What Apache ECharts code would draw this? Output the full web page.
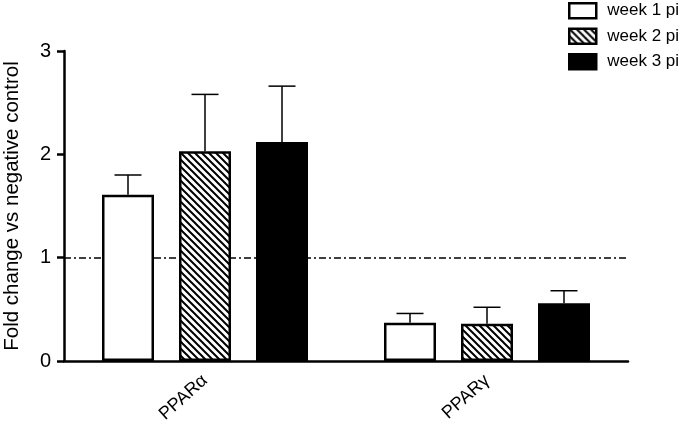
<!DOCTYPE html>
<html>
<head>
<meta charset="utf-8">
<script src="https://cdn.jsdelivr.net/npm/echarts@6/dist/echarts.min.js"></script>
<style>html,body{margin:0;padding:0;background:#fff}#main{width:680px;height:431px}</style>
</head>
<body>
<div id="main"></div>
<script>
// ---- data ----
const categories = ['PPARα', 'PPARγ'];
const seriesNames = ['week 1 pi', 'week 2 pi', 'week 3 pi'];
const week1Mean = [1.61, 0.37];
const week1Err = [0.19, 0.09];
const week2Mean = [2.03, 0.36];
const week2Err = [0.55, 0.16];
const week3Mean = [2.12, 0.56];
const week3Err = [0.54, 0.12];
const yTicks = [0, 1, 2, 3];
const refValue = 1;
const yAxisTitle = 'Fold change vs negative control';

// ---- styles ----
const FONT = 'Liberation Sans, Arial, Helvetica, sans-serif';
const BAR_W = 52;
const BAR_GAP_PX = 25;
const CAP_W = 27;

function hatch() {
  const s = 7;
  const c = document.createElement('canvas');
  c.width = s; c.height = s;
  const g = c.getContext('2d');
  g.fillStyle = '#fff';
  g.fillRect(0, 0, s, s);
  g.strokeStyle = '#000';
  g.lineWidth = 2;
  g.beginPath();
  g.moveTo(-1, -1); g.lineTo(s + 1, s + 1);
  g.moveTo(-1, s - 1); g.lineTo(1, s + 1);
  g.moveTo(s - 1, -1); g.lineTo(s + 1, 1);
  g.stroke();
  return c;
}

const fills = ['#ffffff', { image: hatch(), repeat: 'repeat' }, '#000000'];
const means = [week1Mean, week2Mean, week3Mean];
const errs = [week1Err, week2Err, week3Err];

const chart = echarts.init(document.getElementById('main'), null, { renderer: 'canvas' });

const series = [];
seriesNames.forEach((name, i) => {
  const s = {
    name: name,
    type: 'bar',
    barWidth: BAR_W,
    barGap: (BAR_GAP_PX / BAR_W * 100) + '%',
    data: means[i],
    itemStyle: { color: fills[i], borderColor: '#000', borderWidth: 2.5 },
    z: 2
  };
  if (i === 0) {
    s.markLine = {
      silent: true,
      symbol: ['none', 'none'],
      label: { show: false },
      lineStyle: { color: '#000', width: 1.5, type: [7, 3, 2, 3] },
      data: [{ yAxis: refValue }],
      z: 1
    };
  }
  series.push(s);
});

seriesNames.forEach((name, i) => {
  const offset = (i - 1) * (BAR_W + BAR_GAP_PX);
  series.push({
    name: 'err' + i,
    type: 'custom',
    z: 3,
    data: means[i].map((m, k) => [k, m, m + errs[i][k]]),
    renderItem: function (params, api) {
      const base = api.coord([api.value(0), api.value(1)]);
      const top = api.coord([api.value(0), api.value(2)]);
      const x = base[0] + offset;
      return {
        type: 'group',
        children: [
          { type: 'line', shape: { x1: x, y1: base[1], x2: x, y2: top[1] }, style: { stroke: '#000', lineWidth: 1.5 } },
          { type: 'line', shape: { x1: x - CAP_W / 2, y1: top[1], x2: x + CAP_W / 2, y2: top[1] }, style: { stroke: '#000', lineWidth: 1.5 } }
        ]
      };
    }
  });
});

chart.setOption({
  animation: false,
  backgroundColor: '#fff',
  textStyle: { fontFamily: FONT, color: '#000' },
  legend: {
    data: seriesNames,
    orient: 'vertical',
    icon: 'rect',
    left: 568,
    top: 2,
    padding: 0,
    itemWidth: 27,
    itemHeight: 15,
    itemGap: 8,
    selectedMode: false,
    itemStyle: { borderColor: '#000', borderWidth: 2.5 },
    textStyle: { fontFamily: FONT, fontSize: 17, color: '#000', lineHeight: 15, padding: [0, 0, 0, 6] }
  },
  grid: { left: 64, right: 52, top: 51, bottom: 70, containLabel: false, outerBoundsMode: 'none' },
  xAxis: {
    type: 'category',
    data: categories,
    axisLine: { lineStyle: { color: '#000', width: 2.5 } },
    axisTick: { alignWithLabel: true, length: 6, lineStyle: { color: '#000', width: 2.5 } },
    axisLabel: { rotate: 42, margin: 17, fontSize: 18, fontFamily: FONT, color: '#000' },
    splitLine: { show: false }
  },
  yAxis: {
    type: 'value',
    min: yTicks[0],
    max: yTicks[yTicks.length - 1],
    interval: 1,
    name: yAxisTitle,
    nameLocation: 'middle',
    nameRotate: 90,
    nameGap: 41,
    nameTextStyle: { fontSize: 20.5, fontFamily: FONT, color: '#000' },
    axisLine: { show: true, lineStyle: { color: '#000', width: 2.5 } },
    axisTick: { show: true, length: 7, lineStyle: { color: '#000', width: 2.5 } },
    axisLabel: { margin: 13, fontSize: 20, fontFamily: FONT, color: '#000' },
    splitLine: { show: false }
  },
  series: series
});
</script>
</body>
</html>
